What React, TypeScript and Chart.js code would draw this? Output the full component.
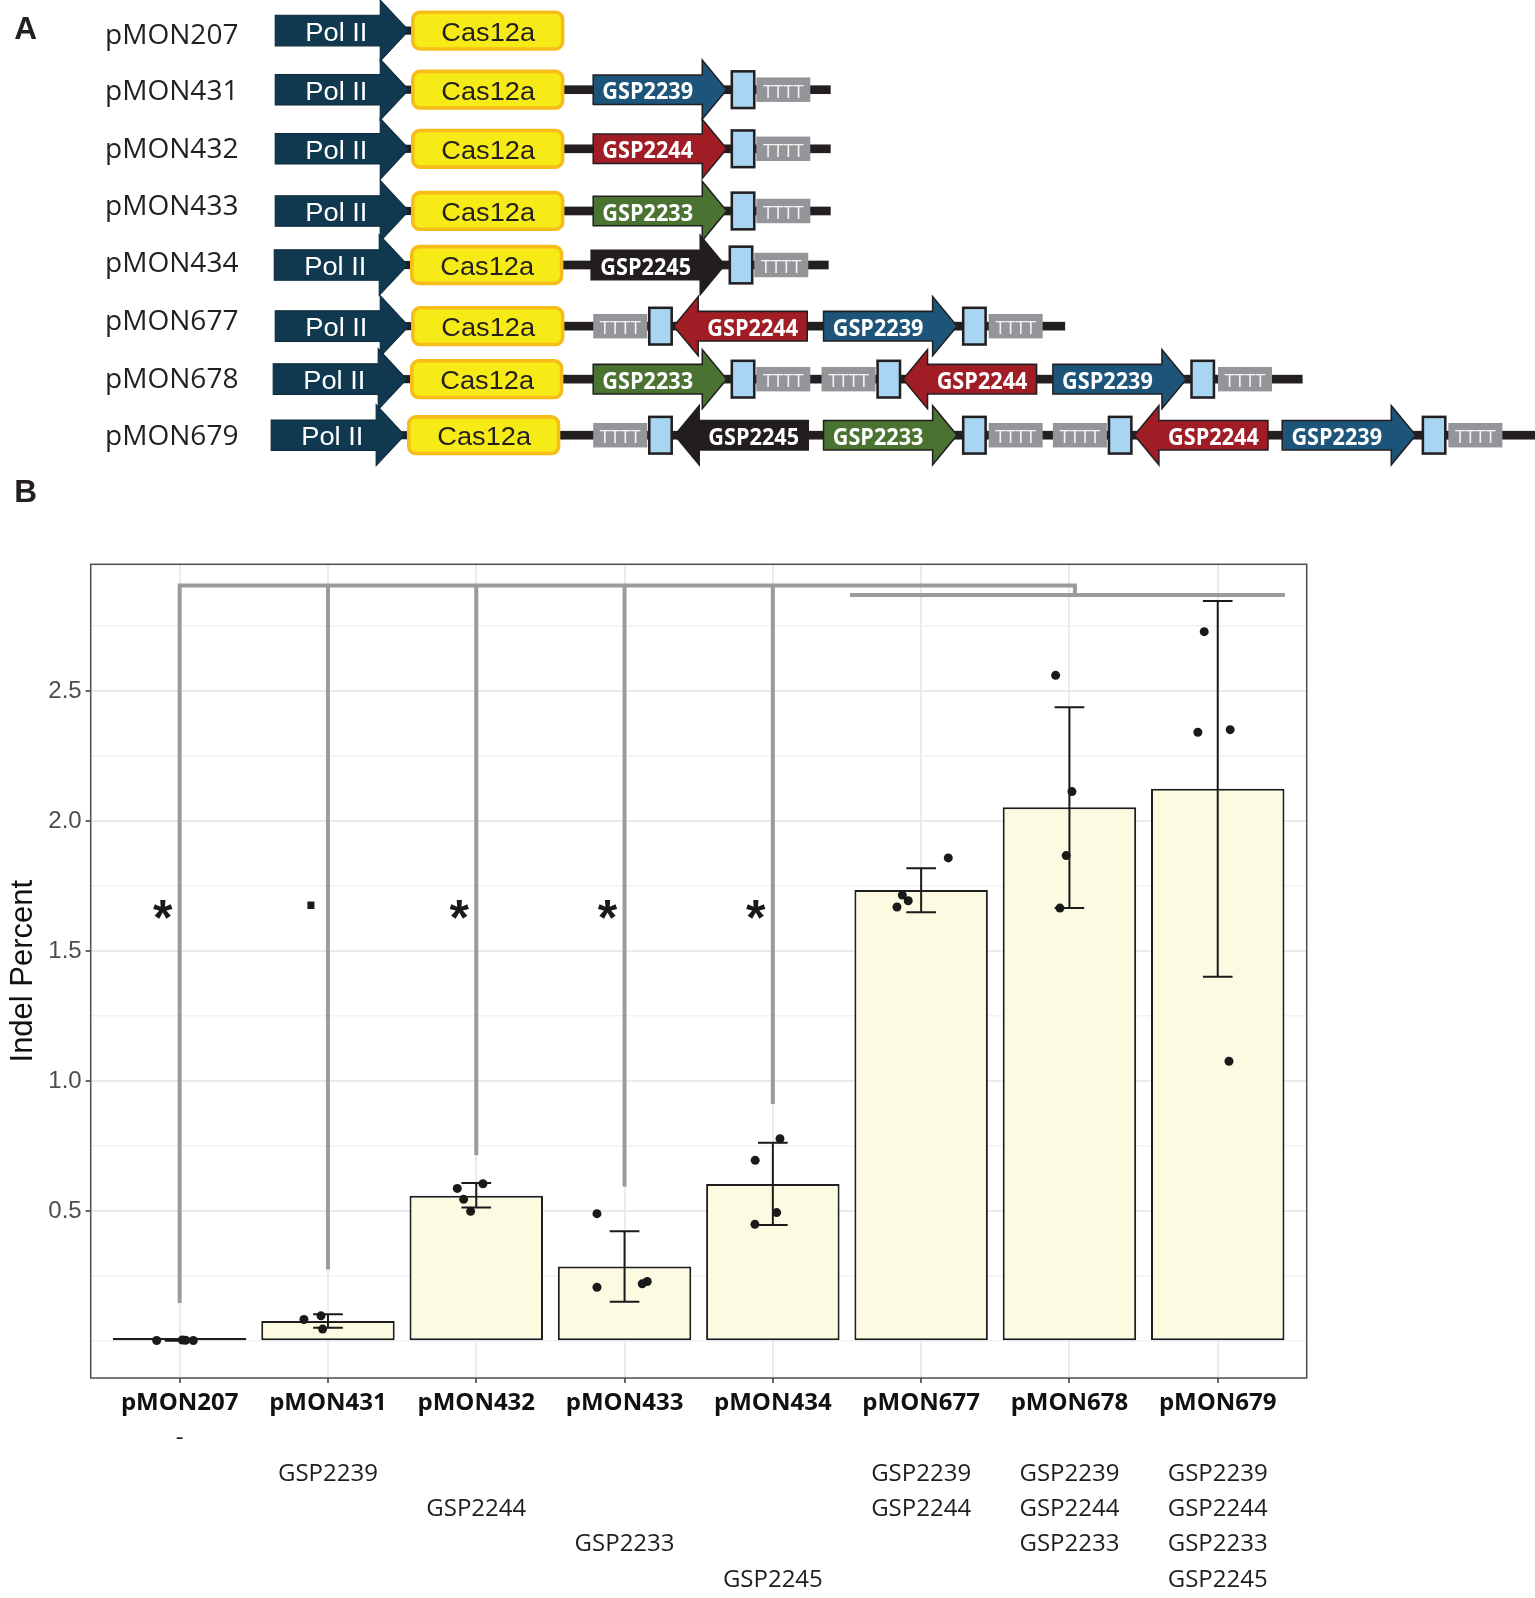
import React, { useEffect, useRef } from 'react';
import { Chart, registerables } from 'chart.js';

Chart.register(...registerables);

// ---------------- Panel B data ----------------
const categories = ['pMON207', 'pMON431', 'pMON432', 'pMON433', 'pMON434', 'pMON677', 'pMON678', 'pMON679'];
const guideLines: string[][] = [
  ['-'],
  ['', 'GSP2239'],
  ['', '', 'GSP2244'],
  ['', '', '', 'GSP2233'],
  ['', '', '', '', 'GSP2245'],
  ['', 'GSP2239', 'GSP2244'],
  ['', 'GSP2239', 'GSP2244', 'GSP2233'],
  ['', 'GSP2239', 'GSP2244', 'GSP2233', 'GSP2245'],
];
const meanIndel = [0.003, 0.077, 0.559, 0.287, 0.604, 1.735, 2.053, 2.124];
const errLow = [0.001, 0.051, 0.514, 0.151, 0.446, 1.649, 1.665, 1.401];
const errHigh = [0.005, 0.103, 0.608, 0.422, 0.763, 1.818, 2.437, 2.846];
const replicateValues: number[][] = [
  [0.002, 0.004, 0.003, 0.002],
  [0.083, 0.097, 0.046],
  [0.587, 0.545, 0.499, 0.605],
  [0.49, 0.207, 0.22, 0.229],
  [0.695, 0.778, 0.494, 0.449],
  [1.858, 1.715, 1.693, 1.669],
  [2.56, 2.113, 1.867, 1.665],
  [2.728, 2.341, 2.351, 1.076],
];
const replicateJitter: number[][] = [
  [-0.155, 0.018, 0.04, 0.092],
  [-0.162, -0.047, -0.036],
  [-0.128, -0.085, -0.038, 0.045],
  [-0.186, -0.186, 0.119, 0.153],
  [-0.119, 0.048, 0.026, -0.121],
  [0.183, -0.127, -0.087, -0.163],
  [-0.093, 0.017, -0.022, -0.064],
  [-0.091, -0.134, 0.084, 0.076],
];
const sigBottoms = [0.146, 0.275, 0.715, 0.594, 0.912];
const sigLabels = ['*', '.', '*', '*', '*'];
const sigLabelLevel = 1.67;
const leftBracketLevel = 2.905;
const rightBracketLevel = 2.869;
const leftBracketEnd = 6.037;
const rightBracketSpan = [4.52, 7.453];
const yGridValues = [0, 0.25, 0.5, 0.75, 1, 1.25, 1.5, 1.75, 2, 2.25, 2.5, 2.75];
const yLabelValues = [0.5, 1, 1.5, 2, 2.5];
const xTickValues = categories.map((_, i) => i);

// ---------------- Panel A data ----------------
const constructNames = categories;
const rowY = [30, 88, 146, 207, 260, 320, 372, 427];
const labelY = [33, 88, 145, 201, 257, 313, 370, 426];
const polX = [270, 270, 270, 270, 269, 270, 268, 266];
const casX = [405, 405, 405, 405, 404, 405, 404, 401];
const rowEnd = [0, 815, 815, 815, 813, 1045, 1278, 1506];
type Part = { k: 'fwd' | 'rev' | 'term' | 'tttt'; x: number; g?: string };
const rowParts: Part[][] = [
  [],
  [{ k: 'fwd', x: 582, g: 'GSP2239' }, { k: 'term', x: 718 }, { k: 'tttt', x: 742 }],
  [{ k: 'fwd', x: 582, g: 'GSP2244' }, { k: 'term', x: 718 }, { k: 'tttt', x: 742 }],
  [{ k: 'fwd', x: 582, g: 'GSP2233' }, { k: 'term', x: 718 }, { k: 'tttt', x: 742 }],
  [{ k: 'fwd', x: 580, g: 'GSP2245' }, { k: 'term', x: 716 }, { k: 'tttt', x: 740 }],
  [
    { k: 'tttt', x: 582 }, { k: 'term', x: 637 }, { k: 'rev', x: 661, g: 'GSP2244' },
    { k: 'fwd', x: 808, g: 'GSP2239' }, { k: 'term', x: 945 }, { k: 'tttt', x: 970 },
  ],
  [
    { k: 'fwd', x: 582, g: 'GSP2233' }, { k: 'term', x: 718 }, { k: 'tttt', x: 742 },
    { k: 'tttt', x: 806 }, { k: 'term', x: 861 }, { k: 'rev', x: 886, g: 'GSP2244' },
    { k: 'fwd', x: 1033, g: 'GSP2239' }, { k: 'term', x: 1169 }, { k: 'tttt', x: 1195 },
  ],
  [
    { k: 'tttt', x: 582 }, { k: 'term', x: 637 }, { k: 'rev', x: 662, g: 'GSP2245' },
    { k: 'fwd', x: 808, g: 'GSP2233' }, { k: 'term', x: 945 }, { k: 'tttt', x: 970 },
    { k: 'tttt', x: 1033 }, { k: 'term', x: 1088 }, { k: 'rev', x: 1113, g: 'GSP2244' },
    { k: 'fwd', x: 1258, g: 'GSP2239' }, { k: 'term', x: 1396 }, { k: 'tttt', x: 1421 },
  ],
];
const guideColors: Record<string, string> = {
  GSP2239: '#1D5479',
  GSP2244: '#A11D26',
  GSP2233: '#4A7331',
  GSP2245: '#221E1F',
};

const INK = '#231F20';
const ARIAL = '"Liberation Sans", Arial, sans-serif';
const CAL = '"Open Sans", sans-serif';

function GuideArrow({ p, cy }: { p: Part; cy: number }) {
  const fill = guideColors[p.g as string];
  const sh = 14.5, hh = 29, len = 131, head = 24;
  let pts: string, cx: number;
  if (p.k === 'fwd') {
    const b = p.x + len - head;
    pts = `${p.x},${cy - sh} ${b},${cy - sh} ${b},${cy - hh} ${p.x + len},${cy} ${b},${cy + hh} ${b},${cy + sh} ${p.x},${cy + sh}`;
    cx = p.x + (len - head) / 2;
  } else {
    const b = p.x + head;
    pts = `${p.x},${cy} ${b},${cy - hh} ${b},${cy - sh} ${p.x + len},${cy - sh} ${p.x + len},${cy + sh} ${b},${cy + sh} ${b},${cy + hh}`;
    cx = b + (len - head) / 2;
  }
  return (
    <g>
      <polygon points={pts} fill={fill} stroke={INK} strokeWidth={1.5} strokeLinejoin="miter" />
      <text x={cx} y={cy + 1} fill="#fff" fontFamily={CAL} fontWeight="bold" fontSize={22} textAnchor="middle"
        dominantBaseline="central" textLength={89} lengthAdjust="spacingAndGlyphs">{p.g}</text>
    </g>
  );
}

function PanelA() {
  return (
    <svg width={1535} height={(1535 * 510) / 1506} viewBox="0 0 1506 510"
      style={{ position: 'absolute', left: 0, top: 0, pointerEvents: 'none' }}>
      <text x={14} y={27} fontFamily={ARIAL} fontWeight="bold" fontSize={31} dominantBaseline="central" fill={INK}>A</text>
      <text x={14} y={482} fontFamily={ARIAL} fontWeight="bold" fontSize={31} dominantBaseline="central" fill={INK}>B</text>
      {constructNames.map((name, r) => {
        const cy = rowY[r];
        const px = polX[r];
        const cx = casX[r];
        return (
          <g key={name}>
            <text x={103} y={labelY[r]} fontFamily={CAL} fontSize={27} fill={INK} dominantBaseline="central"
              textLength={131} lengthAdjust="spacingAndGlyphs">{name}</text>
            {rowEnd[r] > 0 && <rect x={cx + 140} y={cy - 4.25} width={rowEnd[r] - cx - 140} height={8.5} fill={INK} />}
            <rect x={px + 120} y={cy - 4} width={cx - px - 115} height={8} fill={INK} />
            <polygon
              points={`${px},${cy - 15} ${px + 103},${cy - 15} ${px + 103},${cy - 30} ${px + 131},${cy} ${px + 103},${cy + 30} ${px + 103},${cy + 15} ${px},${cy + 15}`}
              fill="#10384F" stroke="#0b2a3c" strokeWidth={1} />
            <text x={px + 60} y={cy + 1} fill="#fff" fontFamily={ARIAL} fontSize={25} textAnchor="middle"
              dominantBaseline="central" textLength={61} lengthAdjust="spacingAndGlyphs">Pol II</text>
            <rect x={cx} y={cy - 18} width={147} height={36} rx={7} fill="#F6EB16" stroke="#F6BD1A" strokeWidth={3.5} />
            <text x={cx + 74} y={cy + 1} fill={INK} fontFamily={ARIAL} fontSize={26} textAnchor="middle"
              dominantBaseline="central" textLength={92} lengthAdjust="spacingAndGlyphs">Cas12a</text>
            {rowParts[r].map((p, j) => {
              if (p.k === 'fwd' || p.k === 'rev') return <GuideArrow key={j} p={p} cy={cy} />;
              if (p.k === 'term')
                return <rect key={j} x={p.x} y={cy - 18} width={22} height={36} fill="#A8D5F2" stroke={INK} strokeWidth={2.5} />;
              return (
                <g key={j}>
                  <rect x={p.x} y={cy - 12} width={53} height={24} fill="#939598" />
                  <text x={p.x + 26.5} y={cy + 1} fill="#f4f4f4" fontFamily={CAL} fontSize={17} textAnchor="middle"
                    dominantBaseline="central" textLength={40} lengthAdjust="spacingAndGlyphs">TTTT</text>
                </g>
              );
            })}
          </g>
        );
      })}
    </svg>
  );
}

// ---------------- Chart ----------------
const CAP = 0.1;
const SIG_LABEL_DX = -0.115;

function buildConfig(): any {
  const barData = meanIndel.map((v, i) => ({ x: i, y: v }));
  const pointData: { x: number; y: number }[] = [];
  replicateValues.forEach((vals, i) => vals.forEach((v, j) => pointData.push({ x: i + replicateJitter[i][j], y: v })));
  const errData: { x: number; y: number | null }[] = [];
  categories.forEach((_, i) => {
    errData.push(
      { x: i - CAP, y: errHigh[i] }, { x: i + CAP, y: errHigh[i] }, { x: i, y: null },
      { x: i, y: errHigh[i] }, { x: i, y: errLow[i] }, { x: i, y: null },
      { x: i - CAP, y: errLow[i] }, { x: i + CAP, y: errLow[i] }, { x: i, y: null },
    );
  });
  const sigData: { x: number; y: number | null }[] = [
    { x: 0, y: sigBottoms[0] }, { x: 0, y: leftBracketLevel }, { x: leftBracketEnd, y: leftBracketLevel },
    { x: leftBracketEnd, y: rightBracketLevel }, { x: leftBracketEnd, y: null },
    { x: rightBracketSpan[0], y: rightBracketLevel }, { x: rightBracketSpan[1], y: rightBracketLevel }, { x: rightBracketSpan[1], y: null },
  ];
  sigBottoms.forEach((b, i) => {
    if (i === 0) return;
    sigData.push({ x: i, y: b }, { x: i, y: leftBracketLevel }, { x: i, y: null });
  });

  const sigTextPlugin = {
    id: 'sigText',
    afterDatasetsDraw(chart: any) {
      const { ctx, scales, chartArea: a } = chart;
      ctx.save();
      ctx.strokeStyle = '#4D4D4D';
      ctx.lineWidth = 1.5;
      ctx.strokeRect(a.left, a.top, a.right - a.left, a.bottom - a.top);
      const fs = 50;
      ctx.font = `bold ${fs}px ${ARIAL}`;
      ctx.fillStyle = '#1A1A1A';
      ctx.textAlign = 'center';
      ctx.textBaseline = 'alphabetic';
      sigLabels.forEach((lab, i) => {
        const px = scales.x.getPixelForValue(i + SIG_LABEL_DX);
        const py = scales.y.getPixelForValue(sigLabelLevel) + (lab === '*' ? 0.57 : 0.05) * fs;
        ctx.fillText(lab, px, py);
      });
      ctx.restore();
    },
  };

  const xShared = {
    type: 'linear', min: -0.6, max: 7.6, position: 'bottom', offset: false,
    afterBuildTicks: (axis: any) => { axis.ticks = xTickValues.map((value) => ({ value })); },
  };

  return {
    type: 'bar',
    data: {
      datasets: [
        {
          type: 'scatter', data: pointData, order: 0, pointRadius: 4.5, pointBackgroundColor: '#1A1A1A',
          pointBorderWidth: 0, showLine: false,
        },
        {
          type: 'line', data: errData, order: 1, borderColor: '#1A1A1A', borderWidth: 2, pointRadius: 0,
          spanGaps: false, fill: false, tension: 0,
        },
        {
          type: 'line', data: sigData, order: 2, borderColor: '#9B9B9F', borderWidth: 4, pointRadius: 0,
          spanGaps: false, fill: false, tension: 0, borderJoinStyle: 'miter', borderCapStyle: 'butt',
        },
        {
          type: 'bar', data: barData, order: 3, backgroundColor: '#FDFAE2', borderColor: '#1E1E1E', borderWidth: 2,
          borderSkipped: false, barPercentage: 0.9, categoryPercentage: 1, minBarLength: 3,
        },
      ],
    },
    options: {
      responsive: false,
      devicePixelRatio: 1,
      animation: false,
      events: [],
      layout: { padding: { left: 0, right: 228.3, top: 84.3, bottom: 0 } },
      plugins: { legend: { display: false }, tooltip: { enabled: false } },
      scales: {
        x: {
          ...xShared, weight: 0,
          afterFit: (axis: any) => { axis.height = 43; },
          grid: { offset: false, color: '#EBEBEB', lineWidth: 2, drawTicks: true, tickLength: 5, tickColor: '#333333', tickWidth: 1.5 },
          border: { display: false },
          ticks: {
            autoSkip: false, maxRotation: 0, padding: 5.6, color: '#111111',
            font: { family: CAL, size: 24, weight: 'bold', lineHeight: 1.2 },
            callback: (v: number) => categories[v] ?? '',
          },
        },
        xg: {
          ...xShared, weight: 1,
          afterFit: (axis: any) => { axis.height = 177; },
          grid: { display: false, drawTicks: false, offset: false },
          border: { display: false },
          ticks: {
            autoSkip: false, maxRotation: 0, padding: 0, color: '#1E1E1E',
            font: { family: CAL, size: 24, lineHeight: 1.47 },
            callback: (v: number) => guideLines[v] ?? '',
          },
        },
        y: {
          type: 'linear', min: -0.142, max: 2.987,
          afterBuildTicks: (axis: any) => { axis.ticks = yGridValues.map((value) => ({ value })); },
          afterFit: (axis: any) => { axis.width = 90.7; },
          grid: {
            color: (c: any) => (yLabelValues.includes(c.tick?.value) ? '#EBEBEB' : '#F2F2F2'),
            lineWidth: (c: any) => (yLabelValues.includes(c.tick?.value) ? 2 : 1.5),
            drawTicks: true, tickLength: 5, tickWidth: 1.5,
            tickColor: (c: any) => (yLabelValues.includes(c.tick?.value) ? '#333333' : 'rgba(0,0,0,0)'),
          },
          border: { display: false },
          ticks: {
            autoSkip: false, padding: 4, color: '#4D4D4D',
            font: { family: ARIAL, size: 24 },
            callback: (v: number) => (yLabelValues.includes(v) ? v.toFixed(1) : ''),
          },
          title: {
            display: true, text: 'Indel Percent', color: '#111111',
            font: { family: ARIAL, size: 31, lineHeight: 1.2 }, padding: { top: 4.8, bottom: 0 },
          },
        },
      },
    },
    plugins: [sigTextPlugin],
  };
}

export default function App() {
  const ref = useRef<HTMLCanvasElement>(null);
  useEffect(() => {
    const chart = new Chart(ref.current as HTMLCanvasElement, buildConfig());
    return () => chart.destroy();
  }, []);
  return (
    <div style={{ position: 'absolute', left: 0, top: 0, width: 1535, height: 1598, background: '#ffffff', overflow: 'hidden' }}>
      <canvas ref={ref} width={1535} height={1118}
        style={{ position: 'absolute', left: 0, top: 480, width: 1535, height: 1118 }} />
      <PanelA />
    </div>
  );
}
